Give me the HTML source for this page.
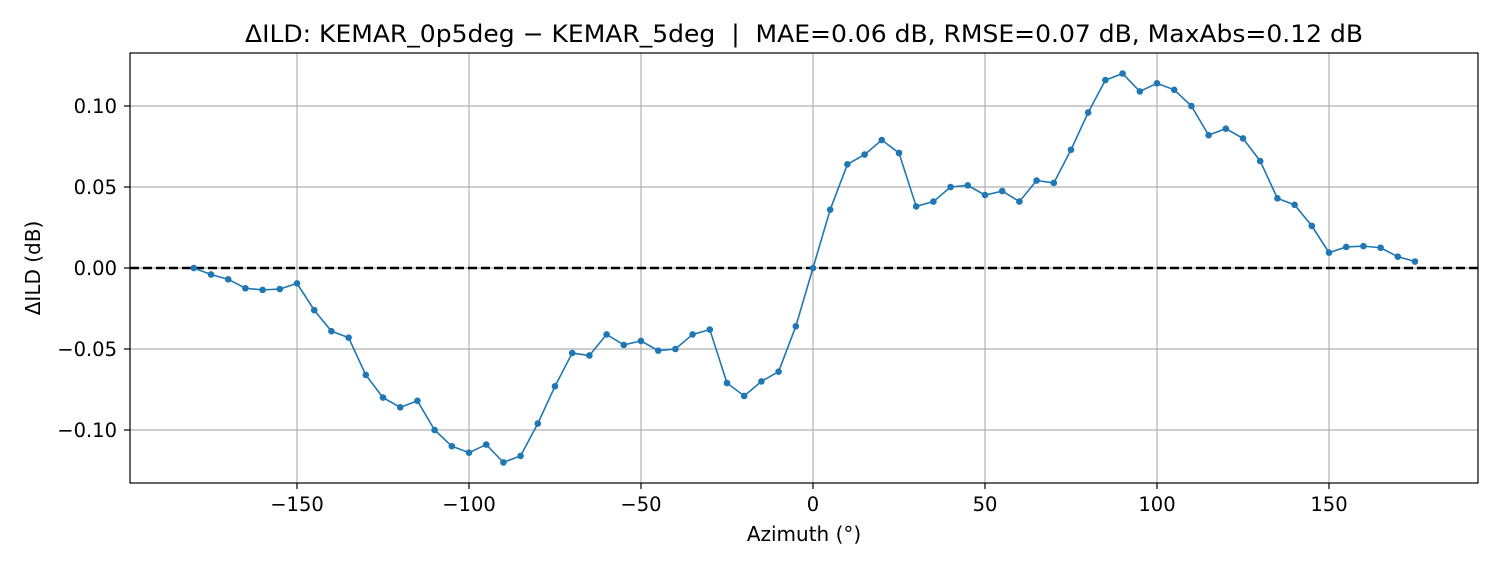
<!DOCTYPE html>
<html><head><meta charset="utf-8"><style>
html,body{margin:0;padding:0;background:#fff;}
svg{display:block;font-family:"DejaVu Sans","Liberation Sans",sans-serif;}
</style></head><body>
<svg id="chart" width="1500" height="570"></svg>
<script>
const azimuths = [-180,-175,-170,-165,-160,-155,-150,-145,-140,-135,-130,-125,-120,-115,-110,-105,-100,-95,-90,-85,-80,-75,-70,-65,-60,-55,-50,-45,-40,-35,-30,-25,-20,-15,-10,-5,0,5,10,15,20,25,30,35,40,45,50,55,60,65,70,75,80,85,90,95,100,105,110,115,120,125,130,135,140,145,150,155,160,165,170,175];
const posValues = [0,0.036,0.064,0.070,0.079,0.071,0.038,0.041,0.050,0.051,0.045,0.0475,0.041,0.054,0.0525,0.073,0.096,0.116,0.120,0.109,0.114,0.110,0.100,0.082,0.086,0.080,0.066,0.043,0.039,0.026,0.0095,0.013,0.0135,0.0125,0.007,0.004];
const negValues = [0,-0.004,-0.007,-0.0125,-0.0135,-0.013,-0.0095,-0.026,-0.039,-0.043,-0.066,-0.080,-0.086,-0.082,-0.100,-0.110,-0.114,-0.109,-0.120,-0.116,-0.096,-0.073,-0.0525,-0.054,-0.041,-0.0475,-0.045,-0.051,-0.050,-0.041,-0.038,-0.071,-0.079,-0.070,-0.064,-0.036];
const values = negValues.concat(posValues);
const xTicks = [-150,-100,-50,0,50,100,150];
const yTicks = [-0.10,-0.05,0.00,0.05,0.10];
const yTickLabels = ["\u22120.10","\u22120.05","0.00","0.05","0.10"];

const NS="http://www.w3.org/2000/svg";
const svg=document.getElementById('chart');
const L=130,R=1478,T=53,B=483;
const xs=a=>813+(a)*3.44;
const ys=v=>268-v*1620;
function mk(tag,attrs,parent){const e=document.createElementNS(NS,tag);for(const k in attrs)e.setAttribute(k,attrs[k]);(parent||svg).appendChild(e);return e;}

const grid=mk('g',{});


xTicks.forEach(t=>{
  const l=mk('line',{x1:xs(t),x2:xs(t),y1:T,y2:B,stroke:'#b0b0b0','stroke-width':1.2},grid);
  
  
  mk('line',{x1:xs(t),x2:xs(t),y1:B,y2:B+6,stroke:'#000','stroke-width':1.2});
  const tx=mk('text',{x:xs(t),y:B+28,'text-anchor':'middle','font-size':19.5});
  tx.textContent=(t<0?'\u2212'+(-t):''+t);
  
  
});
yTicks.forEach((t,i)=>{
  const l=mk('line',{x1:L,x2:R,y1:ys(t),y2:ys(t),stroke:'#b0b0b0','stroke-width':1.2},grid);
  
  
  mk('line',{x1:L-6,x2:L,y1:ys(t),y2:ys(t),stroke:'#000','stroke-width':1.2});
  const tx=mk('text',{x:L-13,y:ys(t)+7,'text-anchor':'end','font-size':19.5});
  tx.textContent=yTickLabels[i];
  
  
});
const zl=mk('line',{x1:L,x2:R,y1:ys(0),y2:ys(0),stroke:'#000','stroke-width':2.5,'stroke-dasharray':'9,4'});



const pts=azimuths.map((a,i)=>xs(a)+','+ys(values[i])).join(' ');
const line=mk('polyline',{points:pts,fill:'none',stroke:'#1f77b4','stroke-width':1.6});


azimuths.forEach((a,i)=>{
  const c=mk('circle',{cx:xs(a),cy:ys(values[i]),r:3.3,fill:'#1f77b4'});
  
  
});

const frame=mk('rect',{x:L,y:T,width:R-L,height:B-T,fill:'none',stroke:'#000','stroke-width':1.2});



const title=mk('text',{x:(L+R)/2,y:42,'text-anchor':'middle','font-size':24,textLength:1118,lengthAdjust:'spacingAndGlyphs'});
title.textContent='\u0394ILD: KEMAR_0p5deg \u2212 KEMAR_5deg  |  MAE=0.06 dB, RMSE=0.07 dB, MaxAbs=0.12 dB';
title.style.whiteSpace='pre';



const xl=mk('text',{x:(L+R)/2,y:541,'text-anchor':'middle','font-size':20});
xl.textContent='Azimuth (\u00b0)';



const yl=mk('text',{x:0,y:0,'text-anchor':'middle','font-size':20,transform:'translate(40,268) rotate(-90)'});
yl.textContent='\u0394ILD (dB)';


</script>
</body></html>
